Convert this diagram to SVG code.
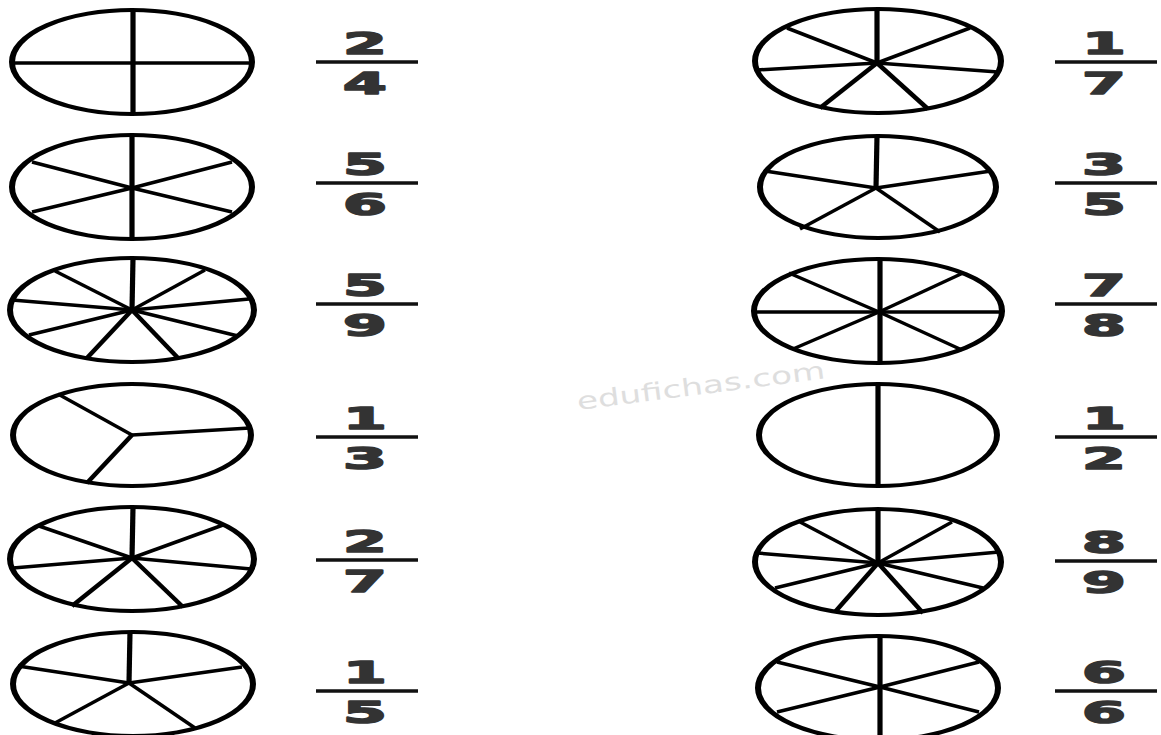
<svg xmlns="http://www.w3.org/2000/svg" width="1161" height="735" viewBox="0 0 1161 735">
<style>
.rim{fill:none;stroke:#000;stroke-width:4}
.s{stroke:#000;stroke-width:3.5;stroke-linecap:butt}
.t{stroke-width:4.5}
.v{stroke-width:5.2}
.bar{stroke:#111;stroke-width:3.4}
.d{font-family:"DejaVu Sans",Verdana,sans-serif;font-weight:bold;font-size:30px;fill:#333;stroke:#333;stroke-width:1.6;stroke-linejoin:round;text-anchor:middle}
.wm{font-family:"DejaVu Sans",sans-serif;font-size:24px;fill:#dedede}
</style>
<rect width="1161" height="735" fill="#fff"/>
<text class="wm" x="578" y="410" transform="rotate(-7.3 578 410)" textLength="250" lengthAdjust="spacingAndGlyphs">edufichas.com</text>

<!-- Left column -->
<g id="pieL1">
<ellipse class="rim" rx="80" ry="52" transform="translate(132 62) scale(1.5 1)"/>
<line class="s v" x1="133" y1="10" x2="133" y2="114"/>
<line class="s" x1="12" y1="63" x2="252" y2="63"/>
</g>
<g id="pieL2">
<ellipse class="rim" rx="80" ry="52" transform="translate(132 187) scale(1.5 1)"/>
<line class="s v" x1="132" y1="135" x2="132" y2="239"/>
<line class="s" x1="132" y1="188" x2="32" y2="162"/>
<line class="s" x1="132" y1="188" x2="232" y2="162"/>
<line class="s" x1="132" y1="188" x2="32" y2="212"/>
<line class="s" x1="132" y1="188" x2="232" y2="212"/>
</g>
<g id="pieL3">
<ellipse class="rim" rx="81.33" ry="52" transform="translate(132 310) scale(1.5 1)"/>
<line class="s v" x1="132" y1="310" x2="133" y2="258"/>
<line class="s" x1="132" y1="310" x2="205" y2="270"/>
<line class="s" x1="132" y1="310" x2="249" y2="299"/>
<line class="s" x1="132" y1="310" x2="238" y2="336"/>
<line class="s t" x1="132" y1="310" x2="178" y2="358"/>
<line class="s t" x1="132" y1="310" x2="87" y2="358"/>
<line class="s" x1="132" y1="310" x2="29" y2="335"/>
<line class="s" x1="132" y1="310" x2="12" y2="300"/>
<line class="s" x1="132" y1="310" x2="55" y2="271"/>
</g>
<g id="pieL4">
<ellipse class="rim" rx="79.33" ry="51" transform="translate(132 435) scale(1.5 1)"/>
<line class="s" x1="132" y1="435" x2="58" y2="394"/>
<line class="s" x1="132" y1="435" x2="250" y2="428"/>
<line class="s t" x1="132" y1="435" x2="87" y2="483"/>
</g>
<g id="pieL5">
<ellipse class="rim" rx="81.33" ry="52" transform="translate(132 559) scale(1.5 1)"/>
<line class="s v" x1="132" y1="558" x2="133" y2="507"/>
<line class="s" x1="132" y1="558" x2="223" y2="525"/>
<line class="s" x1="132" y1="558" x2="251" y2="569"/>
<line class="s t" x1="132" y1="558" x2="183" y2="607"/>
<line class="s t" x1="132" y1="558" x2="72" y2="606"/>
<line class="s" x1="132" y1="558" x2="13" y2="568"/>
<line class="s" x1="132" y1="558" x2="39" y2="526"/>
</g>
<g id="pieL6">
<ellipse class="rim" rx="80" ry="52" transform="translate(133 684) scale(1.5 1)"/>
<line class="s v" x1="129" y1="683" x2="130" y2="632"/>
<line class="s" x1="129" y1="683" x2="242" y2="667"/>
<line class="s" x1="129" y1="683" x2="195" y2="728"/>
<line class="s" x1="129" y1="683" x2="55" y2="723"/>
<line class="s" x1="129" y1="683" x2="18" y2="666"/>
</g>

<!-- Right column -->
<g id="pieR1">
<ellipse class="rim" rx="82" ry="52" transform="translate(878 61) scale(1.5 1)"/>
<line class="s v" x1="877" y1="63" x2="877" y2="9"/>
<line class="s" x1="877" y1="63" x2="970" y2="28"/>
<line class="s" x1="877" y1="63" x2="998" y2="72"/>
<line class="s t" x1="877" y1="63" x2="928" y2="109"/>
<line class="s t" x1="877" y1="63" x2="820" y2="108"/>
<line class="s" x1="877" y1="63" x2="757" y2="70"/>
<line class="s" x1="877" y1="63" x2="787" y2="28"/>
</g>
<g id="pieR2">
<ellipse class="rim" rx="78.67" ry="51" transform="translate(878 187) scale(1.5 1)"/>
<line class="s v" x1="876" y1="188" x2="877" y2="136"/>
<line class="s" x1="876" y1="188" x2="991" y2="171"/>
<line class="s" x1="876" y1="188" x2="940" y2="232"/>
<line class="s" x1="876" y1="188" x2="800" y2="229"/>
<line class="s" x1="876" y1="188" x2="765" y2="171"/>
</g>
<g id="pieR3">
<ellipse class="rim" rx="82.67" ry="52" transform="translate(878 311) scale(1.5 1)"/>
<line class="s v" x1="880" y1="259" x2="880" y2="363"/>
<line class="s" x1="755" y1="312" x2="1002" y2="312"/>
<line class="s" x1="879" y1="312" x2="789" y2="273"/>
<line class="s" x1="879" y1="312" x2="963" y2="273"/>
<line class="s" x1="879" y1="312" x2="793" y2="349"/>
<line class="s" x1="879" y1="312" x2="962" y2="350"/>
</g>
<g id="pieR4">
<ellipse class="rim" rx="79.33" ry="51" transform="translate(878 435) scale(1.5 1)"/>
<line class="s v" x1="878" y1="384" x2="878" y2="486"/>
</g>
<g id="pieR5">
<ellipse class="rim" rx="82" ry="53" transform="translate(878 562) scale(1.5 1)"/>
<line class="s v" x1="878" y1="563" x2="878" y2="510"/>
<line class="s" x1="878" y1="563" x2="952" y2="522"/>
<line class="s" x1="878" y1="563" x2="999" y2="552"/>
<line class="s" x1="878" y1="563" x2="983" y2="588"/>
<line class="s t" x1="878" y1="563" x2="923" y2="613"/>
<line class="s t" x1="878" y1="563" x2="835" y2="612"/>
<line class="s" x1="878" y1="563" x2="775" y2="588"/>
<line class="s" x1="878" y1="563" x2="757" y2="553"/>
<line class="s" x1="878" y1="563" x2="800" y2="522"/>
</g>
<g id="pieR6">
<ellipse class="rim" rx="80" ry="52" transform="translate(878 688) scale(1.5 1)"/>
<line class="s v" x1="880" y1="636" x2="880" y2="740"/>
<line class="s" x1="880" y1="687" x2="777" y2="662"/>
<line class="s" x1="880" y1="687" x2="979" y2="662"/>
<line class="s" x1="880" y1="687" x2="777" y2="712"/>
<line class="s" x1="880" y1="687" x2="979" y2="712"/>
</g>

<!-- Fractions -->
<g id="fracL1" transform="translate(367 62)">
<line class="bar" x1="-51" y1="0" x2="51" y2="0"/>
<text class="d" transform="translate(-2 -8.5) scale(2.1 1)">2</text>
<text class="d" transform="translate(-2 32) scale(2.1 1)">4</text>
</g>
<g id="fracL2" transform="translate(367 183)">
<line class="bar" x1="-51" y1="0" x2="51" y2="0"/>
<text class="d" transform="translate(-2 -8.5) scale(2.1 1)">5</text>
<text class="d" transform="translate(-2 32) scale(2.1 1)">6</text>
</g>
<g id="fracL3" transform="translate(367 304)">
<line class="bar" x1="-51" y1="0" x2="51" y2="0"/>
<text class="d" transform="translate(-2 -8) scale(2.1 1)">5</text>
<text class="d" transform="translate(-2 32) scale(2.1 1)">9</text>
</g>
<g id="fracL4" transform="translate(367 437)">
<line class="bar" x1="-51" y1="0" x2="51" y2="0"/>
<text class="d" transform="translate(-2 -8.5) scale(2.1 1)">1</text>
<text class="d" transform="translate(-2 32) scale(2.1 1)">3</text>
</g>
<g id="fracL5" transform="translate(367 560)">
<line class="bar" x1="-51" y1="0" x2="51" y2="0"/>
<text class="d" transform="translate(-2 -8.5) scale(2.1 1)">2</text>
<text class="d" transform="translate(-2 32) scale(2.1 1)">7</text>
</g>
<g id="fracL6" transform="translate(367 691)">
<line class="bar" x1="-51" y1="0" x2="51" y2="0"/>
<text class="d" transform="translate(-2 -8.5) scale(2.1 1)">1</text>
<text class="d" transform="translate(-2 32) scale(2.1 1)">5</text>
</g>
<g id="fracR1" transform="translate(1106 62)">
<line class="bar" x1="-51" y1="0" x2="51" y2="0"/>
<text class="d" transform="translate(-2 -8.5) scale(2.1 1)">1</text>
<text class="d" transform="translate(-2 32) scale(2.1 1)">7</text>
</g>
<g id="fracR2" transform="translate(1106 183)">
<line class="bar" x1="-51" y1="0" x2="51" y2="0"/>
<text class="d" transform="translate(-2 -8.5) scale(2.1 1)">3</text>
<text class="d" transform="translate(-2 32) scale(2.1 1)">5</text>
</g>
<g id="fracR3" transform="translate(1106 304)">
<line class="bar" x1="-51" y1="0" x2="51" y2="0"/>
<text class="d" transform="translate(-2 -8) scale(2.1 1)">7</text>
<text class="d" transform="translate(-2 32) scale(2.1 1)">8</text>
</g>
<g id="fracR4" transform="translate(1106 437)">
<line class="bar" x1="-51" y1="0" x2="51" y2="0"/>
<text class="d" transform="translate(-2 -8.5) scale(2.1 1)">1</text>
<text class="d" transform="translate(-2 32) scale(2.1 1)">2</text>
</g>
<g id="fracR5" transform="translate(1106 561)">
<line class="bar" x1="-51" y1="0" x2="51" y2="0"/>
<text class="d" transform="translate(-2 -8.5) scale(2.1 1)">8</text>
<text class="d" transform="translate(-2 32) scale(2.1 1)">9</text>
</g>
<g id="fracR6" transform="translate(1106 691)">
<line class="bar" x1="-51" y1="0" x2="51" y2="0"/>
<text class="d" transform="translate(-2 -8.5) scale(2.1 1)">6</text>
<text class="d" transform="translate(-2 32) scale(2.1 1)">6</text>
</g>
</svg>
